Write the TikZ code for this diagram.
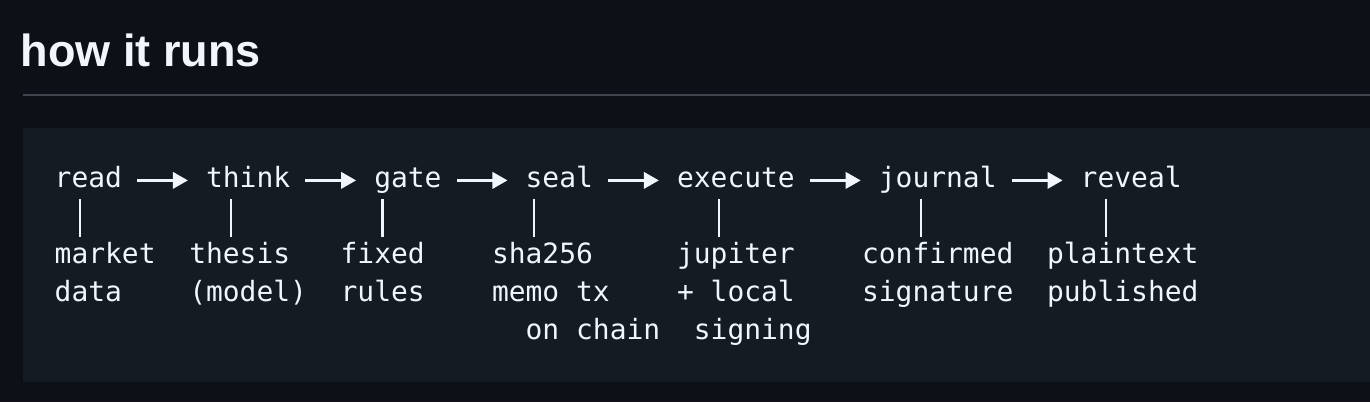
\documentclass[tikz,border=0pt]{standalone}
\usepackage{fontspec}
\usetikzlibrary{arrows.meta,calc}
\newfontfamily\codefont{DejaVu Sans Mono}
\newfontfamily\headfont{Liberation Sans}
\definecolor{canvas}{HTML}{0D1117}
\definecolor{codebg}{HTML}{151B23}
\definecolor{rulegray}{HTML}{3D444D}
\definecolor{fg}{HTML}{F0F6FC}
\tikzset{
  code/.style={anchor=base west, inner sep=0pt, text=fg, font=\codefont\fontsize{27.94}{38}\selectfont},
  flow/.style={fg, line width=2.2pt, -{Triangle[length=15pt,width=16.5pt]}, shorten <=15pt, shorten >=18pt},
  tick/.style={fg, line width=2.4pt}
}
\def\cw{16.82}

\begin{document}
\begin{tikzpicture}[x=1pt,y=1pt]
  \fill[canvas] (0,0) rectangle (1370,-402);
  \useasboundingbox (0,0) rectangle (1370,-402);
  % heading and rule
  \node[anchor=base west, inner sep=0pt, text=fg, font=\headfont\bfseries\fontsize{45}{54}\selectfont] (title) at (20.5,-66.7) {how it runs};
  \draw[rulegray, line width=2pt] (23,-94.5) -- (1370,-94.5);
  \fill[codebg] (23,-128) rectangle (1370,-382);
  % steps, ticks and notes
  \foreach \name/\col/\tk/\sc/\first/\second in {read/0/1/0/market/data, think/9/10/8/thesis/(model), gate/19/19/17/fixed/rules, seal/28/28/26/sha256/memo tx, execute/37/39/37/jupiter/+ local, journal/49/51/48/confirmed/signature, reveal/61/62/59/plaintext/published}{
    \node[code] (\name) at (54.5+\col*\cw,-187) {\name};
    \node[code] (\name-a) at (54.5+\sc*\cw,-263) {\first};
    \node[code] (\name-b) at (54.5+\sc*\cw,-301) {\second};
    \draw[tick] ($(\name.base west)+(\tk*\cw-\col*\cw+0.5*\cw,-12.3)$) -- ($(\name.base west |- \name-a.base)+(\tk*\cw-\col*\cw+0.5*\cw,26)$);
  }
  \node[code] (seal-c) at (54.5+28*\cw,-339) {on chain};
  \node[code] (execute-c) at (54.5+38*\cw,-339) {signing};
  % arrows
  \foreach \a/\b in {read/think, think/gate, gate/seal, seal/execute, execute/journal, journal/reveal}
    \draw[flow] ([yshift=6.6pt]\a.base east) -- ([yshift=6.6pt]\b.base west);
\end{tikzpicture}
\end{document}
